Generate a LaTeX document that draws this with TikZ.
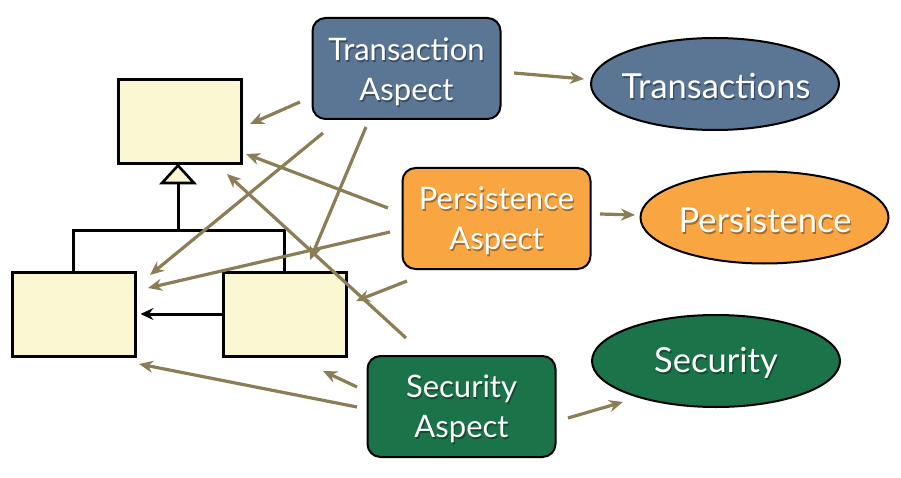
\documentclass[tikz,border=0pt]{standalone}
\usepackage{fontspec}
\setmainfont{Lato}
\usetikzlibrary{arrows.meta,shapes.geometric}
\definecolor{transc}{HTML}{5A7694}
\definecolor{persc}{HTML}{F9A642}
\definecolor{secc}{HTML}{1B734A}
\definecolor{clsc}{HTML}{FAF7D2}
\definecolor{olive}{HTML}{8B7D56}
\newcommand\stxt[3][]{%
  \node[txtshadow,#1] at ([shift={(1.2,1.6)}]#2) {#3};
  \node[txtw,#1] at (#2) {#3};}
\begin{document}
\begin{tikzpicture}[x=1pt,y=-1pt,
  cls/.style={draw=black,line width=3pt,fill=clsc,minimum width=123pt,minimum height=84pt,inner sep=0pt},
  aspect/.style={draw=black,line width=2pt,rounded corners=13pt,minimum width=188pt,minimum height=101pt,inner sep=0pt},
  ell/.style={draw=black,line width=2pt,ellipse,minimum width=248pt,minimum height=92pt,inner sep=0pt},
  txtw/.style={text=white,font=\fontsize{31}{40}\selectfont,align=center,inner sep=0pt},
  txtshadow/.style={text=black,opacity=0.35,font=\fontsize{31}{40}\selectfont,align=center,inner sep=0pt},
  big/.style={font=\fontsize{34.5}{40}\selectfont},
  oarr/.style={draw=olive,line width=3.2pt,-{Stealth[length=14pt,width=12pt,inset=4.5pt]}},
  barr/.style={draw=black,line width=3pt,-{Stealth[length=13pt,width=12pt,inset=4.5pt]}}]
\useasboundingbox (0,0) rectangle (901,478);

% class boxes
\node[cls] (top) at (179.5,121.5) {};
\node[cls] (left) at (73.5,314) {};
\node[cls] (right) at (284.5,314) {};
\coordinate (triA) at (178,165.5);
\coordinate (triB) at (178,183);
\draw[line width=2.6pt,fill=clsc,line join=miter] (triA) -- (162,183) -- (194,183) -- cycle;
\draw[line width=3pt] (triB) -- (178,232);
\draw[line width=3pt] (left.north) -- ++(0,-40) -| (right.north);
\draw[barr,shorten >=4pt] (right.west) -- (left.east);

% aspects
\node[aspect,fill=transc] (ta) at (406.5,68.5) {};
\node[aspect,fill=persc] (pa) at (496.5,218.5) {};
\node[aspect,fill=secc] (sa) at (461.5,406.5) {};
\node[ell,fill=transc] (te) at (715,84) {};
\node[ell,fill=persc] (pe) at (764.5,217.5) {};
\node[ell,fill=secc] (se) at (716,361) {};

\coordinate (tat) at (406.5,72);
\coordinate (pat) at (496.5,221);
\coordinate (sat) at (461.5,409);
\coordinate (tet) at (716,86);
\coordinate (pet) at (765,220);
\coordinate (set) at (716,363);
\stxt{tat}{Transaction\\Aspect}
\stxt{pat}{Persistence\\Aspect}
\stxt{sat}{Security\\Aspect}
\stxt[big]{tet}{Transactions}
\stxt[big]{pet}{Persistence}
\stxt[big]{set}{Security}

% olive arrows
\coordinate (a1s) at (300,102); \coordinate (a1e) at (250,124);
\coordinate (a2s) at (323,133); \coordinate (a2e) at (150,275);
\coordinate (a3s) at (366,127); \coordinate (a3e) at (310,260);
\coordinate (a4s) at (388,208); \coordinate (a4e) at (246,154);
\coordinate (a5s) at (390,232); \coordinate (a5e) at (148,288);
\coordinate (a6s) at (407,281); \coordinate (a6e) at (356,301);
\coordinate (a7s) at (406,338); \coordinate (a7e) at (227,174);
\coordinate (a8s) at (357,387); \coordinate (a8e) at (323,371);
\coordinate (a9s) at (357,407); \coordinate (a9e) at (139,364);
\coordinate (b1s) at (514,73); \coordinate (b1e) at (584,79);
\coordinate (b2s) at (600,214); \coordinate (b2e) at (635,215);
\coordinate (b3s) at (568,418); \coordinate (b3e) at (623,402);
\foreach \n in {a1,a2,a3,a4,a5,a6,a7,a8,a9,b1,b2,b3}
  \draw[oarr] (\n s) -- (\n e);
\end{tikzpicture}
\end{document}
